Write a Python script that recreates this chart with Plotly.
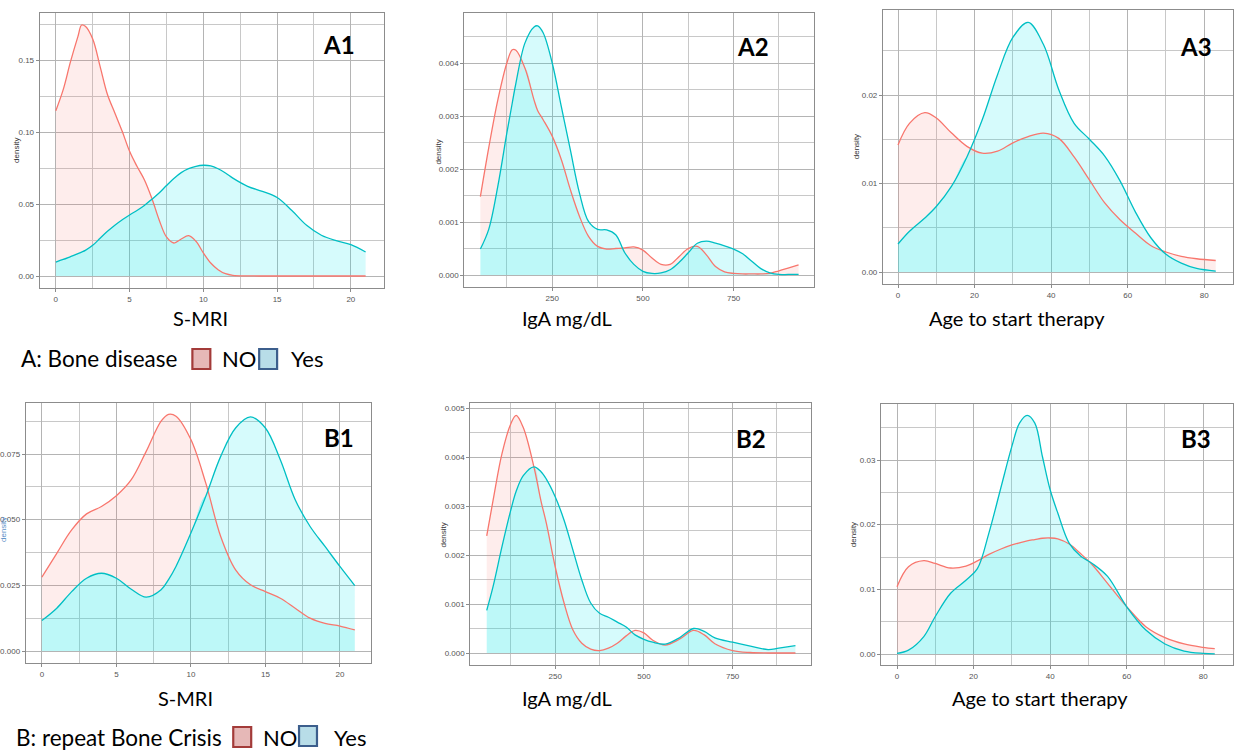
import numpy as np
import plotly.graph_objects as go

# ---------------- data ----------------
a1_x = [0, 0.5, 1, 1.5, 1.75, 2, 2.5, 3, 3.5, 4, 4.5, 5, 5.5, 6, 6.5, 7, 7.5, 8, 8.5, 9, 9.5,
        10, 10.5, 11, 11.5, 12, 13, 14, 15, 16, 17, 18, 19, 20, 21]
a1_no = [0.1148, 0.1294, 0.149, 0.1664, 0.1743, 0.1734, 0.1646, 0.1456, 0.126, 0.1132, 0.1005,
         0.0866, 0.0762, 0.0669, 0.0542, 0.0391, 0.0271, 0.0229, 0.0257, 0.028, 0.0241,
         0.016, 0.009, 0.0044, 0.0016, 0.0005, 0.0001, 0, 0, 0, 0, 0, 0, 0, 0]
a1_yes = [0.0097, 0.0115, 0.0135, 0.0155, 0.0166, 0.0178, 0.0213, 0.0262, 0.031, 0.0353, 0.039,
          0.0424, 0.0455, 0.049, 0.0532, 0.0576, 0.0628, 0.0677, 0.0718, 0.0745, 0.0762,
          0.0769, 0.0765, 0.0745, 0.0715, 0.068, 0.0623, 0.0588, 0.0545, 0.0455, 0.0352,
          0.0283, 0.0245, 0.0218, 0.0167]

a2_x = [52, 75, 100, 125, 140, 150, 175, 200, 210, 225, 250, 275, 300, 325, 350, 375, 400, 425,
        450, 475, 500, 525, 550, 575, 600, 625, 650, 675, 700, 725, 750, 775, 800, 825, 850,
        875, 900, 929]
a2_no = [0.00148, 0.0024, 0.0033, 0.0040, 0.00425, 0.00424, 0.0039, 0.0033, 0.0031, 0.00293,
         0.00262, 0.00218, 0.00161, 0.00111, 0.00073, 0.00054, 0.00049, 0.0005, 0.00051,
         0.00053, 0.00047, 0.00032, 0.0002, 0.0002, 0.00035, 0.0005, 0.00054, 0.00038,
         0.00016, 0.00006, 0.00003, 0.00002, 0.00002, 0.00002, 0.00003, 0.00008, 0.00013,
         0.00019]
a2_yes = [0.00049, 0.00086, 0.00167, 0.00268, 0.00325, 0.00362, 0.00438, 0.00468, 0.0047,
          0.00457, 0.0040, 0.00318, 0.00236, 0.00155, 0.00101, 0.00086, 0.00085, 0.00076,
          0.00042, 0.0002, 0.00007, 0.00003, 0.00004, 0.0001, 0.00024, 0.00042, 0.0006,
          0.00064, 0.0006, 0.00055, 0.00049, 0.0004, 0.00026, 0.00012, 0.00004, 0.00001,
          0.00001, 0.00001]

a3_x = [0, 3, 7, 10, 14, 18, 22, 26, 30, 34, 38, 42, 46, 50, 54, 58, 62, 66, 70, 74, 78, 83]
a3_no = [0.01436, 0.0168, 0.0180, 0.0174, 0.0157, 0.0142, 0.01342, 0.01365, 0.0146, 0.0153,
         0.0157, 0.0151, 0.0130, 0.0104, 0.0078, 0.0059, 0.0044, 0.0030, 0.00226, 0.00177,
         0.0015, 0.0013]
a3_yes = [0.00316, 0.0046, 0.0061, 0.0074, 0.0097, 0.0130, 0.0172, 0.0223, 0.0265, 0.0282,
          0.0257, 0.0206, 0.0168, 0.0150, 0.0131, 0.0103, 0.0068, 0.0039, 0.0020, 0.0010,
          0.0004, 0.0001]

b1_x = [0, 1, 2, 3, 4, 5, 6, 7, 8, 8.5, 9, 10, 11, 12, 13, 14, 15, 16, 17, 18, 19, 20, 21]
b1_no = [0.0281, 0.0372, 0.0461, 0.0522, 0.055, 0.0591, 0.0652, 0.076, 0.0875, 0.0901, 0.0894,
         0.0805, 0.0639, 0.0436, 0.0309, 0.0252, 0.0226, 0.0201, 0.0163, 0.0125, 0.0105,
         0.0095, 0.008]
b1_yes = [0.0116, 0.0163, 0.0226, 0.0277, 0.0296, 0.0277, 0.0235, 0.0205, 0.0233, 0.0272,
          0.0322, 0.0449, 0.0589, 0.0741, 0.0849, 0.0891, 0.0849, 0.0728, 0.0576, 0.0474,
          0.0398, 0.0322, 0.0249]

b2_x = [57, 75, 100, 125, 140, 160, 190, 210, 225, 250, 275, 300, 325, 350, 375, 400, 425, 450,
        475, 500, 525, 560, 600, 640, 670, 700, 750, 800, 850, 880, 927]
b2_no = [0.00239, 0.00312, 0.00407, 0.00468, 0.00485, 0.0046, 0.0038, 0.0031, 0.00265, 0.00176,
         0.00102, 0.00047, 0.0002, 0.00008, 0.00005, 0.0001, 0.0002, 0.00035, 0.00046,
         0.00041, 0.00026, 0.00016, 0.00028, 0.00046, 0.00037, 0.00019, 0.00005, 0.00001,
         0, 0, 0]
b2_yes = [0.00087, 0.00136, 0.00217, 0.00292, 0.0033, 0.00362, 0.0038, 0.0037, 0.00355,
          0.00319, 0.00271, 0.0021, 0.00149, 0.00102, 0.00081, 0.00073, 0.00063, 0.00053,
          0.00037, 0.00028, 0.00022, 0.00018, 0.00031, 0.0005, 0.00044, 0.00031, 0.00022,
          0.00014, 0.00007, 0.0001, 0.00015]

b3_x = [0, 3, 7, 10, 14, 18, 21, 24, 27, 30, 32, 34, 36, 38, 40, 42, 45, 48, 51, 55, 60, 65,
        70, 75, 80, 83]
b3_no = [0.0104, 0.0135, 0.01443, 0.0140, 0.0133, 0.0136, 0.0144, 0.0154, 0.0162, 0.01686,
         0.0172, 0.0175, 0.0177, 0.0179, 0.01794, 0.0178, 0.0170, 0.0155, 0.0138, 0.01093,
         0.00732, 0.00423, 0.00253, 0.00155, 0.00103, 0.00082]
b3_yes = [0.0001, 0.0006, 0.0027, 0.0058, 0.0094, 0.0114, 0.0132, 0.0187, 0.0254, 0.0321,
          0.0357, 0.0369, 0.0357, 0.0305, 0.0254, 0.0218, 0.0171, 0.0151, 0.0140, 0.012,
          0.0073, 0.0037, 0.00155, 0.00046, 0.0001, 0.00003]

panel_labels = ["A1", "A2", "A3", "B1", "B2", "B3"]
x_titles = ["S-MRI", "IgA mg/dL", "Age to start therapy",
            "S-MRI", "IgA mg/dL", "Age to start therapy"]
legend_a = "A: Bone disease"
legend_b = "B: repeat Bone Crisis"
group_labels = ["NO", "Yes"]

# ---------------- layout geometry (pixels) ----------------
W, H = 1234, 753
geo = [
    dict(f=(37, 382, 13, 288), xm=(0, 53, 20, 349), ym=(0, 276, 0.15, 60),
         xd=5, xmin=2.5, yd=0.05, ymin=0.025, yf=".2f", lab=(337, 45), yl=(13, 150), t=(198, 318)),
    dict(f=(463, 814, 13, 287), xm=(250, 551, 750, 733), ym=(0, 275, 0.004, 63),
         xd=250, xmin=125, yd=0.001, ymin=0.0005, yf=".3f", lab=(752, 47), yl=(436, 152), t=(566, 318)),
    dict(f=(883, 1236, 10, 284), xm=(0, 898, 80, 1207), ym=(0, 272, 0.02, 95),
         xd=20, xmin=10, yd=0.01, ymin=0.005, yf=".2f", lab=(1197, 47), yl=(856, 147), t=(1017, 318)),
    dict(f=(23, 369, 403, 663), xm=(0, 39, 20, 338), ym=(0, 651, 0.075, 454),
         xd=5, xmin=2.5, yd=0.025, ymin=0.0125, yf=".3f", lab=(337, 437), yl=(0, 530), t=(183, 698)),
    dict(f=(469, 811, 403, 665), xm=(250, 554, 750, 732), ym=(0, 653, 0.005, 408),
         xd=250, xmin=125, yd=0.001, ymin=0.0005, yf=".3f", lab=(750, 438), yl=(441, 535), t=(566, 698)),
    dict(f=(881, 1236, 404, 665), xm=(0, 897, 80, 1206), ym=(0, 654, 0.03, 460),
         xd=20, xmin=10, yd=0.01, ymin=0.005, yf=".2f", lab=(1197, 438), yl=(853, 535), t=(1040, 698)),
]

datasets = [(a1_x, a1_no, a1_yes), (a2_x, a2_no, a2_yes), (a3_x, a3_no, a3_yes),
            (b1_x, b1_no, b1_yes), (b2_x, b2_no, b2_yes), (b3_x, b3_no, b3_yes)]

RED = "#F8766D"
CYAN = "#00BFC4"
PINK_FILL = "rgba(248,118,109,0.13)"
CYAN_FILL = "rgba(0,229,238,0.16)"
OVER_FILL = "rgba(0,229,229,0.26)"
TICK_FONT = dict(family="Liberation Sans, Arial", size=8, color="#555555")
TEXT_FONT = "Lato, Carlito, Calibri, sans-serif"


def px(x):
    return x / W


def py(y):
    return 1 - y / H


def lin(v1, p1, v2, p2, p):
    return v1 + (p - p1) * (v2 - v1) / (p2 - p1)


fig = go.Figure()
layout = {}
annotations = []

for i, (g, (xs, no, yes)) in enumerate(zip(geo, datasets)):
    n = i + 1
    xa = "x" if n == 1 else f"x{n}"
    ya = "y" if n == 1 else f"y{n}"
    fx0, fx1, fy0, fy1 = g["f"]
    xr = [lin(*g["xm"], fx0), lin(*g["xm"], fx1)]
    yr = [lin(*g["ym"], fy1), lin(*g["ym"], fy0)]
    lo = np.minimum(np.array(no), np.array(yes))
    common = dict(x=xs, xaxis=xa, yaxis=ya, mode="lines", showlegend=False, hoverinfo="skip")
    fig.add_trace(go.Scatter(y=lo, fill="tozeroy", fillcolor=OVER_FILL,
                             line=dict(width=0, color=CYAN, shape="spline"), **common))
    fig.add_trace(go.Scatter(y=no, fill="tonexty", fillcolor=PINK_FILL,
                             line=dict(width=0, color=RED, shape="spline"), **common))
    fig.add_trace(go.Scatter(y=lo, line=dict(width=0, color=CYAN, shape="spline"), **common))
    fig.add_trace(go.Scatter(y=yes, fill="tonexty", fillcolor=CYAN_FILL,
                             line=dict(width=0, color=CYAN, shape="spline"), **common))
    fig.add_trace(go.Scatter(y=no, line=dict(width=1.3, color=RED, shape="spline"), **common))
    fig.add_trace(go.Scatter(y=yes, line=dict(width=1.3, color=CYAN, shape="spline"), **common))

    axcommon = dict(showline=True, mirror=True, linecolor="#8c8c8c", linewidth=1.4,
                    ticks="outside", ticklen=3, tickcolor="#8c8c8c", tickfont=TICK_FONT,
                    showgrid=True, gridcolor="#b4b4b4", gridwidth=1.2, zeroline=False)
    layout["xaxis" if n == 1 else f"xaxis{n}"] = dict(
        domain=[px(fx0), min(px(fx1), 1)], range=xr, anchor=ya, tick0=0, dtick=g["xd"],
        minor=dict(dtick=g["xd"], tick0=g["xmin"], showgrid=True, gridcolor="#c8c8c8", gridwidth=1),
        **axcommon)
    layout["yaxis" if n == 1 else f"yaxis{n}"] = dict(
        domain=[py(fy1), py(fy0)], range=yr, anchor=xa, tick0=0, dtick=g["yd"],
        tickformat=g["yf"],
        minor=dict(dtick=g["yd"], tick0=g["ymin"], showgrid=True, gridcolor="#c8c8c8", gridwidth=1),
        **axcommon)

    lx, ly = g["lab"]
    annotations.append(dict(x=px(lx), y=py(ly), xref="paper", yref="paper", showarrow=False,
                            text=f"<b>{panel_labels[i]}</b>", xanchor="center", yanchor="middle",
                            font=dict(family=TEXT_FONT, size=24, color="#000000")))
    yx, yy = g["yl"]
    annotations.append(dict(x=px(yx), y=py(yy), xref="paper", yref="paper", showarrow=False,
                            text="density", textangle=-90, xanchor="center", yanchor="middle",
                            font=dict(family="Liberation Sans, Arial", size=8,
                                      color="#5b8fc7" if i == 3 else "#333333")))
    tx, ty = g["t"]
    annotations.append(dict(x=px(tx), y=py(ty), xref="paper", yref="paper", showarrow=False,
                            text=x_titles[i], xanchor="center", yanchor="middle",
                            font=dict(family=TEXT_FONT, size=20, color="#000000")))

shapes = []
leg_rows = [
    dict(text=legend_a, tx=16, cy=358, b1=(190, 208, 349, 369), t1=218, b2=(257, 275, 349, 369), t2=287),
    dict(text=legend_b, tx=11, cy=737, b1=(231, 249, 727, 747), t1=259, b2=(297, 315, 726, 746), t2=330),
]
for r in leg_rows:
    annotations.append(dict(x=px(r["tx"]), y=py(r["cy"]), xref="paper", yref="paper", showarrow=False,
                            text=r["text"], xanchor="left", yanchor="middle",
                            font=dict(family=TEXT_FONT, size=22.5, color="#000000")))
    for (bx0, bx1, by0, by1), fillc, linec in [(r["b1"], "#E6B8B7", "#A33B39"),
                                               (r["b2"], "#B8DDE8", "#3C5E8C")]:
        shapes.append(dict(type="rect", xref="paper", yref="paper",
                           x0=px(bx0), x1=px(bx1), y0=py(by1), y1=py(by0),
                           fillcolor=fillc, line=dict(color=linec, width=2.2)))
    for tx, lab in [(r["t1"], group_labels[0]), (r["t2"], group_labels[1])]:
        annotations.append(dict(x=px(tx), y=py(r["cy"]), xref="paper", yref="paper", showarrow=False,
                                text=lab, xanchor="left", yanchor="middle",
                                font=dict(family=TEXT_FONT, size=22, color="#000000")))

fig.update_layout(width=W, height=H, margin=dict(l=0, r=0, t=0, b=0, pad=0),
                  paper_bgcolor="white", plot_bgcolor="white",
                  annotations=annotations, shapes=shapes, **layout)

fig.write_html("out.html", config={"displayModeBar": False},
               post_script="document.body.style.margin='0';document.body.style.overflow='hidden';")
